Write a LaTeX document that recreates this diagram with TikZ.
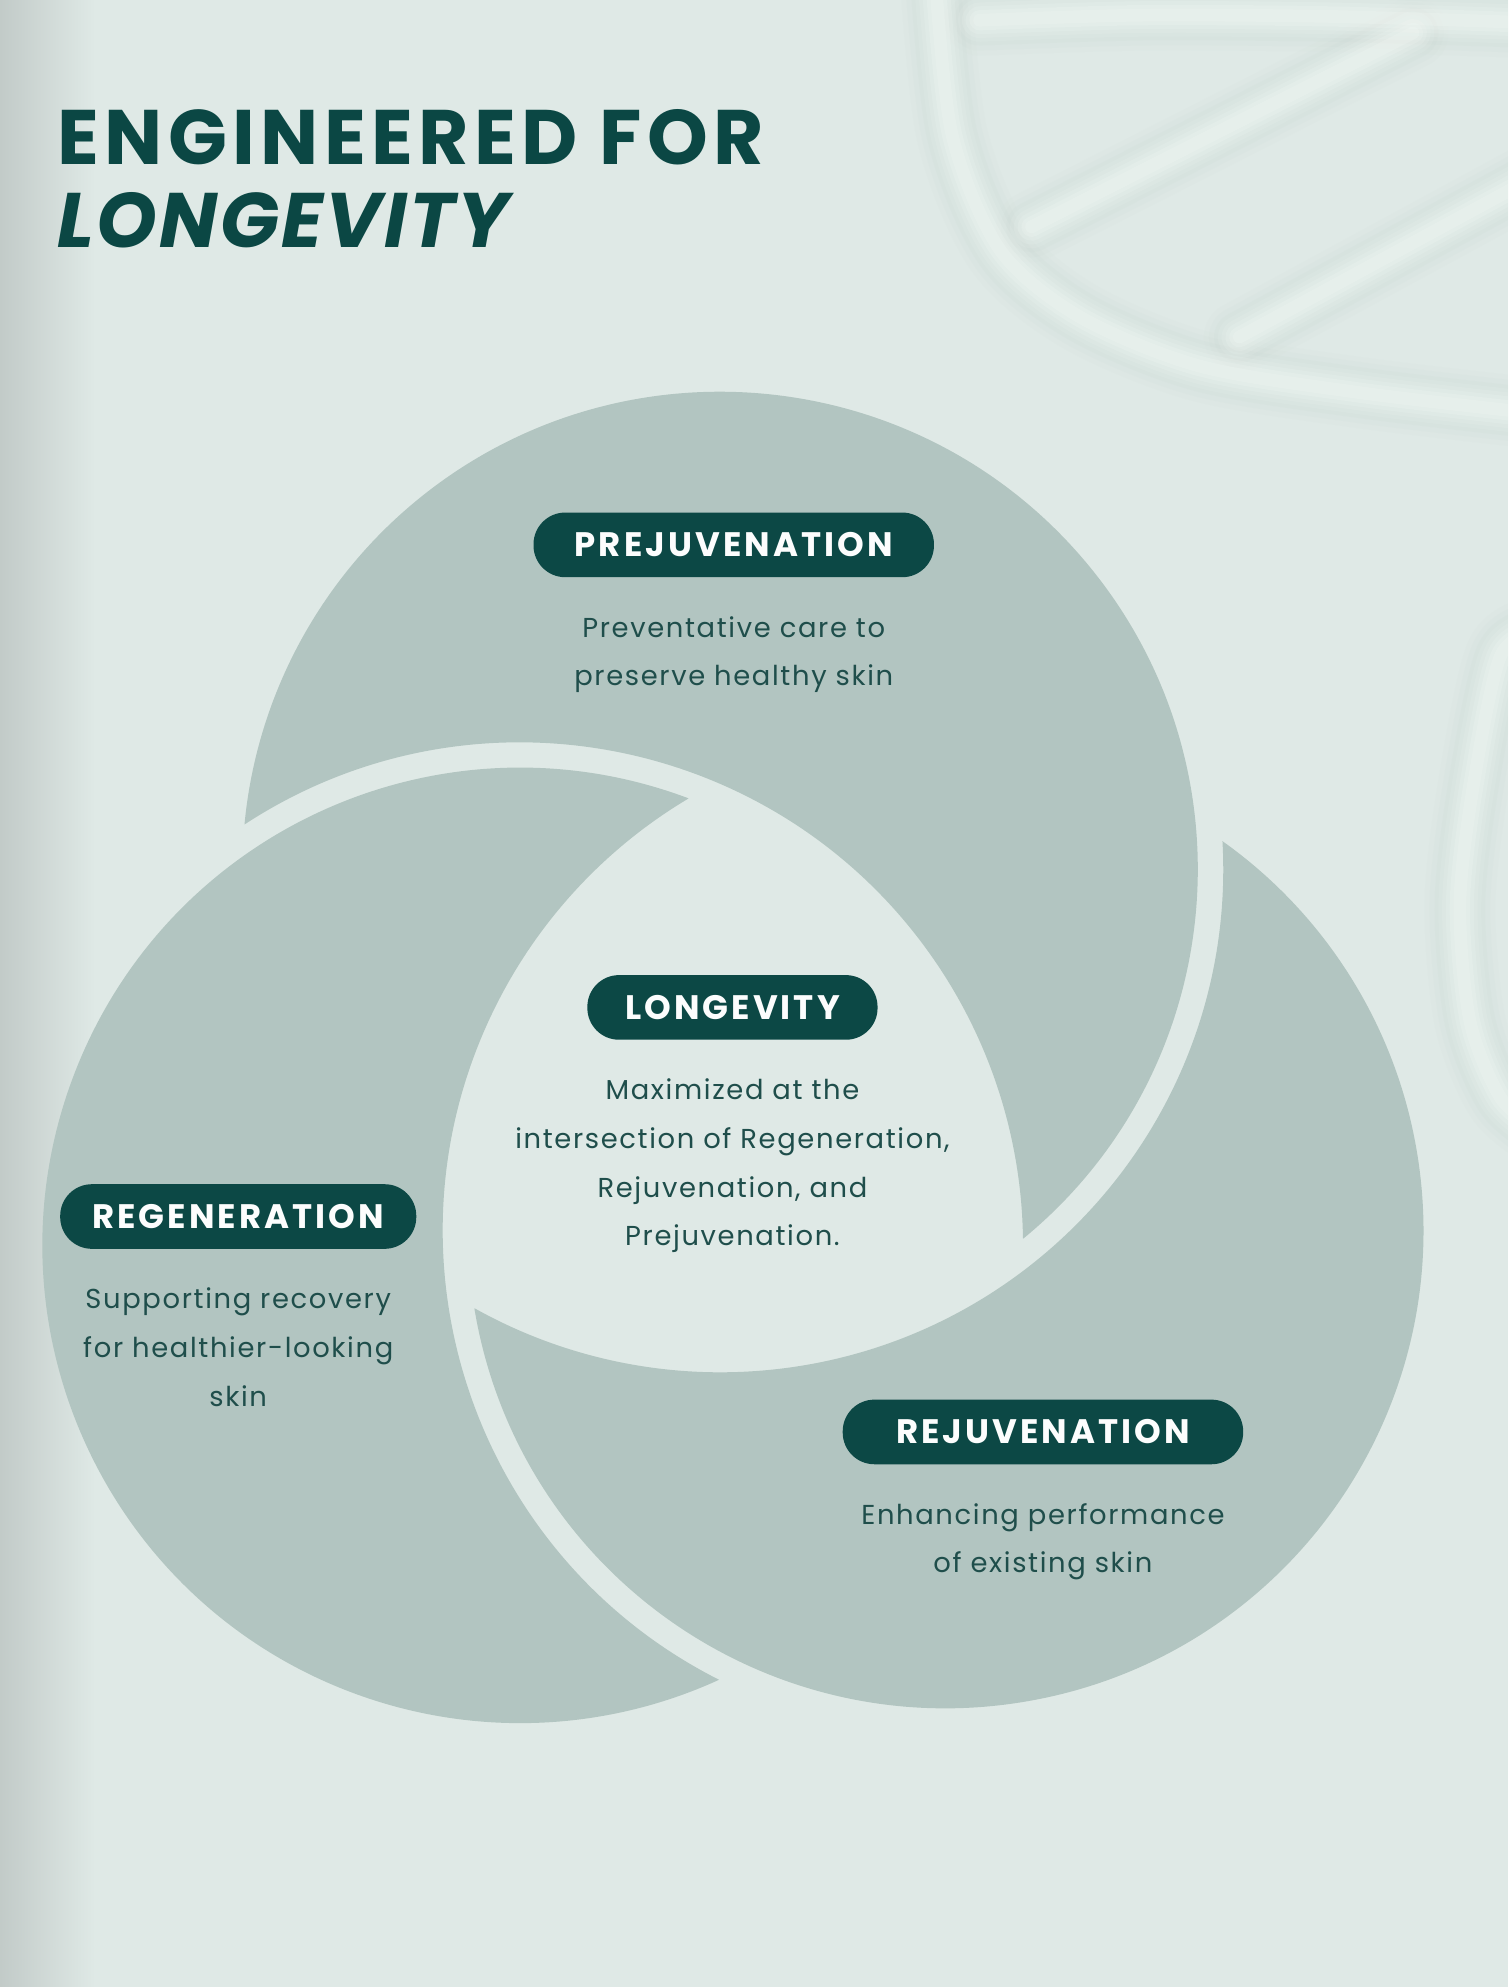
\documentclass[tikz,border=0pt]{standalone}
\usepackage{fontspec}
\setmainfont{Poppins}
\usetikzlibrary{positioning}

\definecolor{bgmint}{HTML}{DFE9E6}
\definecolor{ringfill}{HTML}{B2C5C1}
\definecolor{pilldark}{HTML}{0C4845}
\definecolor{inkteal}{HTML}{1F4E4B}
\definecolor{titleteal}{HTML}{0B4744}
\definecolor{helixwhite}{HTML}{F2F8F4}
\definecolor{helixshade}{HTML}{C3D6CE}

\tikzset{
  pill/.style={fill=pilldark, text=white!92!bgmint, rounded corners=12.5pt,
    minimum height=25.5pt, inner sep=0pt,
    font=\fontsize{13.4}{16}\selectfont\bfseries\addfontfeatures{LetterSpace=9}},
  blurb/.style={text=inkteal, align=center, inner sep=0pt,
    font=\fontsize{10.8}{19.25}\selectfont\addfontfeatures{LetterSpace=6}},
  headline/.style={anchor=base west, inner sep=0pt, text=titleteal},
  strand/.style={line cap=round, line join=round}
}

\begin{document}
\begin{tikzpicture}[x=0.5pt, y=0.5pt]
\useasboundingbox (0,0) rectangle (1190,1568);
\clip (0,0) rectangle (1190,1568);

% backdrop
\fill[bgmint] (0,0) rectangle (1190,1568);
\shade[left color=black!13!bgmint, right color=bgmint] (0,0) rectangle (75,1568);

% blurred helix, top right
\foreach \w/\o/\c in {56/0.06/helixshade, 48/0.08/helixshade, 40/0.10/helixshade,
                      34/0.10/helixwhite, 28/0.14/helixwhite, 22/0.18/helixwhite,
                      16/0.22/helixwhite, 10/0.25/helixwhite}{
  \draw[strand, \c, line width=\w*0.5pt, opacity=\o] plot[smooth] coordinates
    {(737,1600) (751,1463) (789,1371) (852,1318) (947,1279) (1074,1258) (1210,1242)};
  \draw[strand, \c, line width=\w*0.5pt, opacity=\o] plot[smooth] coordinates
    {(773,1552) (900,1556) (1050,1555) (1210,1550)};
  \draw[strand, \c, line width=\w*0.5pt, opacity=\o] (814,1389) -- (1115,1542);
  \draw[strand, \c, line width=\w*0.5pt, opacity=\o] (978,1302) -- (1210,1428);
  \draw[strand, \c, line width=\w*0.5pt, opacity=\o] plot[smooth] coordinates
    {(1215,1070) (1184,1050) (1162,944) (1152,853) (1160,762) (1184,702) (1215,675)};
}

% the three rings, each cut by the next one
\begin{scope}[shift={(575,688)}]
  \foreach \ang/\nm in {92/prejring, 212/regenring, 332/rejuvring}{
    \coordinate (\nm) at (\ang:194);
    \pgfmathsetmacro\dir{\ang+150}
    \pgfmathsetmacro\sa{\dir+67.4}
    \pgfmathsetmacro\ea{\dir+292.6}
    \pgfmathsetmacro\sb{\dir+241.2}
    \pgfmathsetmacro\eb{\dir+118.8}
    \fill[ringfill] (\nm) ++(\sa:377)
      arc[start angle=\sa, end angle=\ea, radius=377]
      arc[start angle=\sb, end angle=\eb, radius=397] -- cycle;
  }
\end{scope}

% title
\node[headline, font=\fontsize{30.5}{31}\selectfont\bfseries\addfontfeatures{LetterSpace=7}] (headA) at (45,1438) {ENGINEERED FOR};
\node[headline, font=\fontsize{30.5}{31}\selectfont\bfseries\itshape\addfontfeatures{LetterSpace=3}] (headB) at (45,1373) {LONGEVITY};

% labels
\node[pill, minimum width=158pt] (prej) at (579,1138) {PREJUVENATION};
\node[blurb, below=15pt of prej] (prejtext) {Preventative care to\\preserve healthy skin};

\node[pill, minimum width=114.5pt] (longev) at (578,773) {LONGEVITY};
\node[blurb, below=15pt of longev] (longevtext) {Maximized at the\\intersection of Regeneration,\\Rejuvenation, and\\Prejuvenation.};

\node[pill, minimum width=140.5pt] (regen) at (188,608) {REGENERATION};
\node[blurb, below=15pt of regen] (regentext) {Supporting recovery\\for healthier-looking\\skin};

\node[pill, minimum width=158pt] (rejuv) at (823,438) {REJUVENATION};
\node[blurb, below=15pt of rejuv] (rejuvtext) {Enhancing performance\\of existing skin};
\end{tikzpicture}
\end{document}
